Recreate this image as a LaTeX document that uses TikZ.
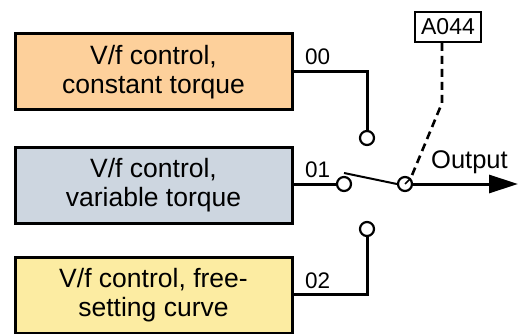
\documentclass[tikz,border=0pt]{standalone}
\usepackage{fontspec}
\setmainfont{Liberation Sans}
\usetikzlibrary{arrows.meta}
\definecolor{cOrange}{RGB}{253,208,155}
\definecolor{cBlue}{RGB}{205,214,224}
\definecolor{cYellow}{RGB}{252,236,162}
\begin{document}
\begin{tikzpicture}[x=1pt,y=-1pt,
  box/.style={draw=black,line width=3pt,minimum width=277pt,minimum height=76pt,inner sep=0pt,align=center,font=\fontsize{26.5}{28.5}\selectfont},
  wire/.style={line width=3pt},
  term/.style={circle,draw=black,fill=white,line width=2.2pt,minimum size=14pt,inner sep=0pt},
  lbl/.style={font=\fontsize{22.5}{24}\selectfont,inner sep=0pt}]
\useasboundingbox (0,0) rectangle (519,334);
\node[box,fill=cOrange] (b1) at (153.5,72) {V/f control,\\constant torque};
\node[box,fill=cBlue] (b2) at (153.5,185) {V/f control,\\variable torque};
\node[box,fill=cYellow] (b3) at (153.5,295) {V/f control, free-\\setting curve};
\node[term] (t0) at (367,138) {};
\node[term] (t1) at (344,184) {};
\node[term] (t2) at (367,229) {};
\node[term] (pv) at (405,184) {};
\node[draw=black,line width=2pt,inner sep=0pt,minimum width=66pt,minimum height=30pt,font=\fontsize{23}{24}\selectfont] (sel) at (448,27) {A044};
\coordinate (c1) at (367,72);
\coordinate (c2) at (367,294);
\coordinate (bend) at (442,103);
\coordinate (bl) at (344,173);
\coordinate (out) at (518,184);
\draw[wire] (b1.east |- c1) -- (c1) -- (t0.north);
\draw[wire] (b2.east |- t1) -- (t1.west);
\draw[wire] (b3.east |- c2) -- (c2) -- (t2.south);
\draw[line width=2pt] (bl) -- (pv.west);
\draw[wire,-{Triangle[length=29pt,width=18pt]}] (pv.east) -- (out);
\draw[line width=2.6pt,dash pattern=on 8pt off 5pt] (sel.south -| bend) -- (bend) -- (pv.north east);
\draw[line width=1.5pt] (pv.center) -- (pv.north east);
\node[lbl,anchor=base west] (l0) at (305,65) {00};
\node[lbl,anchor=base west] (l1) at (305,177) {01};
\node[lbl,anchor=base west] (l2) at (305,288) {02};
\node[font=\fontsize{25.5}{26}\selectfont,inner sep=0pt,anchor=base west] (ot) at (431,168) {Output};
\end{tikzpicture}
\end{document}
